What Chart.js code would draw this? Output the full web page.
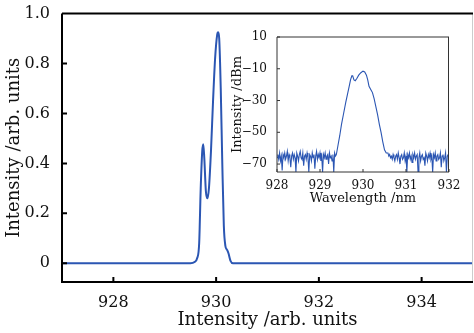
<!DOCTYPE html>
<html>
<head>
<meta charset="utf-8">
<script src="https://cdn.jsdelivr.net/npm/chart.js@4.4.0/dist/chart.umd.min.js"></script>
<style>
    body { margin: 0; background: #fff; }
    #wrap { position: relative; width: 474px; height: 333px; }
    #mainChart { position: absolute; left: 0; top: 0; }
    #insetChart { position: absolute; left: 230px; top: 25px; }
</style>
</head>
<body>
<div id="wrap">
    <canvas id="mainChart" width="474" height="333"></canvas>
    <canvas id="insetChart" width="230" height="190"></canvas>
</div>
<script>
// main spectrum (linear, normalised)
const mainWavelength = [927, 929.5, 929.58, 929.63, 929.67, 929.7, 929.73, 929.75, 929.77, 929.8, 929.83, 929.86, 929.9,
    929.94, 929.98, 930.02, 930.04, 930.06, 930.09, 930.12, 930.15, 930.18, 930.21, 930.24, 930.28, 930.33, 935];
const mainIntensity = [0, 0, 0.005, 0.02, 0.08, 0.3, 0.45, 0.477, 0.42, 0.29, 0.26, 0.3, 0.45,
    0.65, 0.82, 0.915, 0.925, 0.9, 0.7, 0.4, 0.15, 0.07, 0.055, 0.04, 0.01, 0, 0];
const mainXTicks = [928, 930, 932, 934];
const mainYTicks = [0, 0.2, 0.4, 0.6, 0.8, 1.0];

// inset spectrum (dBm): noise floor left, peak, noise floor right
const noiseLeftStart = 928.0;
const noiseStep = 0.02;
const noiseLeft = [-66, -64, -67, -63, -68, -65, -74, -64, -66, -63,
    -67, -65, -62, -68, -64, -66, -72, -65, -63, -67,
    -64, -66, -75, -63, -65, -68, -64, -62, -66, -67,
    -63, -71, -65, -64, -67, -63, -66, -75, -64, -65,
    -68, -63, -66, -64, -73, -65, -62, -67, -64, -66,
    -63, -68, -65, -75, -64, -66, -63, -67, -65, -64,
    -70, -63, -66, -65, -68, -64, -75, -63, -65];
const peakWavelength = [929.38, 929.42, 929.46, 929.5, 929.55, 929.6, 929.64, 929.68, 929.71, 929.74, 929.76, 929.79,
    929.82, 929.86, 929.9, 929.95, 930.0, 930.04, 930.08, 930.11, 930.14, 930.18, 930.22, 930.26, 930.3, 930.34,
    930.38, 930.42, 930.46, 930.5, 930.54];
const peakPower = [-64, -58, -52, -45, -38, -31, -26, -21, -17, -14.5, -14.5, -17,
    -17.5, -16, -14, -12.5, -11.5, -12, -14, -17, -21, -23, -25, -29, -34, -39,
    -45, -50, -56, -61, -63];
const noiseRightStart = 930.58;
const noiseRight = [-63, -65, -64, -66, -65, -67, -64, -66, -68, -65,
    -64, -67, -63, -66, -70, -65, -64, -67, -66, -63,
    -68, -65, -75, -64, -66, -63, -67, -65, -69, -64,
    -66, -63, -67, -65, -64, -75, -66, -63, -68, -65,
    -64, -67, -66, -71, -63, -65, -68, -64, -66, -63,
    -67, -65, -75, -64, -66, -63, -68, -65, -64, -67,
    -66, -63, -72, -65, -64, -68, -66, -63, -75, -65,
    -64, -67];
const insetXTicks = [928, 929, 930, 931, 932];
const insetYTicks = [10, -10, -30, -50, -70];

const serif = "'DejaVu Serif', 'Liberation Serif', serif";
const lineBlue = "#2b56b3";

const mainPoints = mainWavelength.map((x, i) => ({x: x, y: mainIntensity[i]}));

const insetPoints = [];
noiseLeft.forEach((v, i) => insetPoints.push({x: noiseLeftStart + i * noiseStep, y: v}));
peakWavelength.forEach((x, i) => insetPoints.push({x: x, y: peakPower[i]}));
noiseRight.forEach((v, i) => insetPoints.push({x: noiseRightStart + i * noiseStep, y: v}));

function setTicks(values) {
    return scale => { scale.ticks = values.map(v => ({value: v})); };
}

// frame + inward tick marks
function framePlugin(id, width, color, tickLen, rightColor) {
    return {
        id: id,
        afterDraw(chart) {
            const {ctx, chartArea: a, scales} = chart;
            ctx.save();
            ctx.strokeStyle = rightColor;
            ctx.lineWidth = 1;
            ctx.beginPath();
            ctx.moveTo(a.right - 0.5, a.top);
            ctx.lineTo(a.right - 0.5, a.bottom);
            ctx.stroke();

            ctx.strokeStyle = color;
            ctx.lineWidth = width;
            ctx.beginPath();
            ctx.moveTo(a.left, a.top);
            ctx.lineTo(a.left, a.bottom);
            ctx.lineTo(a.right, a.bottom);
            ctx.moveTo(a.left, a.top);
            ctx.lineTo(a.right, a.top);
            scales.x.ticks.forEach(t => {
                const px = scales.x.getPixelForValue(t.value);
                ctx.moveTo(px, a.bottom);
                ctx.lineTo(px, a.bottom - tickLen);
            });
            scales.y.ticks.forEach(t => {
                const py = scales.y.getPixelForValue(t.value);
                ctx.moveTo(a.left, py);
                ctx.lineTo(a.left + tickLen, py);
            });
            ctx.stroke();
            ctx.restore();
        }
    };
}

const whiteBg = {
    id: "whiteBg",
    beforeDraw(chart) {
        const {ctx, chartArea: a} = chart;
        ctx.save();
        ctx.fillStyle = "#fff";
        ctx.fillRect(a.left, a.top, a.right - a.left, a.bottom - a.top);
        ctx.restore();
    }
};

new Chart(document.getElementById("mainChart"), {
    type: "line",
    data: {
        datasets: [{
            data: mainPoints,
            borderColor: lineBlue,
            borderWidth: 2,
            pointRadius: 0,
            cubicInterpolationMode: "monotone",
            fill: false
        }]
    },
    options: {
        responsive: false,
        animation: false,
        devicePixelRatio: 1,
        layout: {padding: {top: 12, right: 1, left: 0, bottom: 0}},
        plugins: {legend: {display: false}, tooltip: {enabled: false}},
        scales: {
            x: {
                type: "linear",
                min: 927,
                max: 935,
                afterBuildTicks: setTicks(mainXTicks),
                afterFit: s => { s.height = 51; },
                grid: {display: false},
                border: {display: false},
                ticks: {color: "#111", padding: 3, font: {family: serif, size: 16}, maxRotation: 0},
                title: {
                    display: true,
                    text: "Intensity /arb. units",
                    color: "#111",
                    font: {family: serif, size: 18},
                    padding: {top: 0, bottom: 2}
                }
            },
            y: {
                min: -0.075,
                max: 1.0,
                afterBuildTicks: setTicks(mainYTicks),
                afterFit: s => { s.width = 62; },
                grid: {display: false},
                border: {display: false},
                ticks: {
                    color: "#111",
                    padding: 4,
                    font: {family: serif, size: 16},
                    callback: v => v === 0 ? "0" : v.toFixed(1)
                },
                title: {
                    display: true,
                    text: "Intensity /arb. units",
                    color: "#111",
                    font: {family: serif, size: 18},
                    padding: {top: 4, bottom: 0}
                }
            }
        }
    },
    plugins: [framePlugin("mainFrame", 2, "#000", 5, "#ccc")]
});

new Chart(document.getElementById("insetChart"), {
    type: "line",
    data: {
        datasets: [{
            data: insetPoints,
            borderColor: lineBlue,
            borderWidth: 1.1,
            pointRadius: 0,
            tension: 0,
            fill: false
        }]
    },
    options: {
        responsive: false,
        animation: false,
        devicePixelRatio: 1,
        layout: {padding: {top: 12, right: 11, left: 0, bottom: 0}},
        plugins: {legend: {display: false}, tooltip: {enabled: false}},
        scales: {
            x: {
                type: "linear",
                min: 928,
                max: 932,
                afterBuildTicks: setTicks(insetXTicks),
                afterFit: s => { s.height = 43; },
                grid: {display: false},
                border: {display: false},
                ticks: {color: "#111", padding: -1, font: {family: serif, size: 12}, maxRotation: 0},
                title: {
                    display: true,
                    text: "Wavelength /nm",
                    color: "#111",
                    font: {family: serif, size: 13, lineHeight: 1},
                    padding: {top: 0, bottom: 10}
                }
            },
            y: {
                min: -75,
                max: 10,
                afterBuildTicks: setTicks(insetYTicks),
                afterFit: s => { s.width = 47; },
                grid: {display: false},
                border: {display: false},
                ticks: {
                    color: "#111",
                    padding: 2,
                    font: {family: serif, size: 12},
                    callback: v => v < 0 ? "\u2212" + Math.abs(v) : String(v)
                },
                title: {
                    display: true,
                    text: "Intensity /dBm",
                    color: "#111",
                    font: {family: serif, size: 13, lineHeight: 1},
                    padding: {top: 1, bottom: 0}
                }
            }
        }
    },
    plugins: [whiteBg, framePlugin("insetFrame", 1, "#333", 3, "#333")]
});
</script>
</body>
</html>
